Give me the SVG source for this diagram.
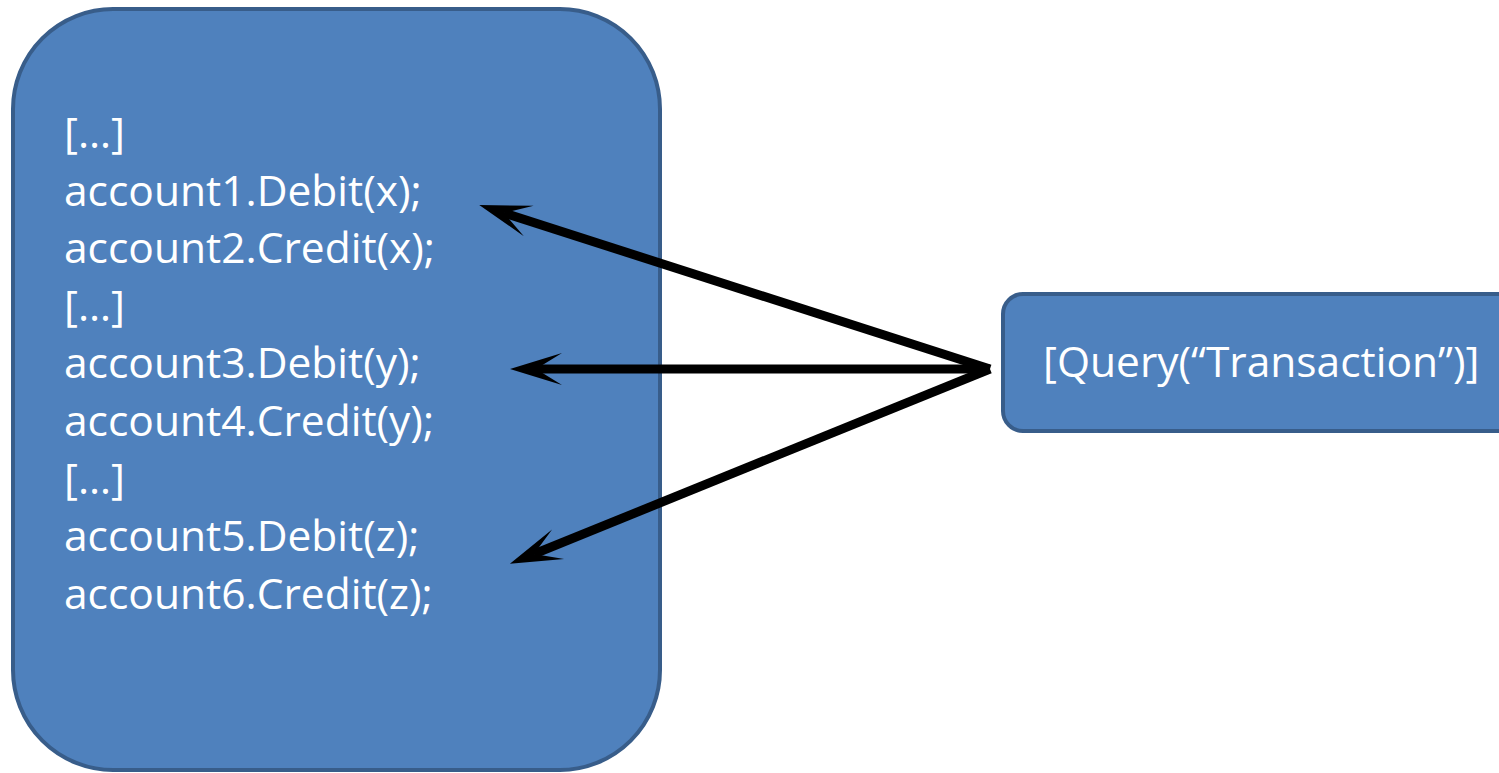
<svg xmlns="http://www.w3.org/2000/svg" width="1499" height="773" viewBox="0 0 1499 773">
<style>
.box{fill:#4f81bd;stroke:#385d8a;stroke-width:4}
.txt{font-family:"Open Sans","Liberation Sans",sans-serif;font-size:42.5px;fill:#ffffff}
.conn{stroke:#000;stroke-width:9;fill:none;stroke-linecap:butt}
</style>
<defs>
<marker id="head" markerUnits="userSpaceOnUse" viewBox="-54 -18 56 36" refX="-26" refY="0" markerWidth="56" markerHeight="36" orient="auto">
<path d="M0,0 L-52,-16 L-26,0 L-52,16 Z" fill="#000"/>
</marker>
</defs>
<g id="code-block">
<rect class="box" x="13" y="9" width="647" height="761" rx="100" ry="100"/>
<text class="txt" x="64" y="148">[…]</text>
<text class="txt" x="64" y="206">account1.Debit(x);</text>
<text class="txt" x="64" y="263">account2.Credit(x);</text>
<text class="txt" x="64" y="321">[…]</text>
<text class="txt" x="64" y="378">account3.Debit(y);</text>
<text class="txt" x="64" y="436">account4.Credit(y);</text>
<text class="txt" x="64" y="494">[…]</text>
<text class="txt" x="64" y="551">account5.Debit(z);</text>
<text class="txt" x="64" y="609">account6.Credit(z);</text>
</g>
<g id="query">
<rect class="box" x="1003" y="294" width="520" height="137" rx="20" ry="20"/>
<text class="txt" x="1043" y="377">[Query(“Transaction”)]</text>
</g>
<g id="connectors">
<line class="conn" x1="990" y1="369" x2="504" y2="213" marker-end="url(#head)"/>
<line class="conn" x1="990" y1="369" x2="536" y2="369" marker-end="url(#head)"/>
<line class="conn" x1="990" y1="369" x2="534" y2="554" marker-end="url(#head)"/>
</g>
</svg>
